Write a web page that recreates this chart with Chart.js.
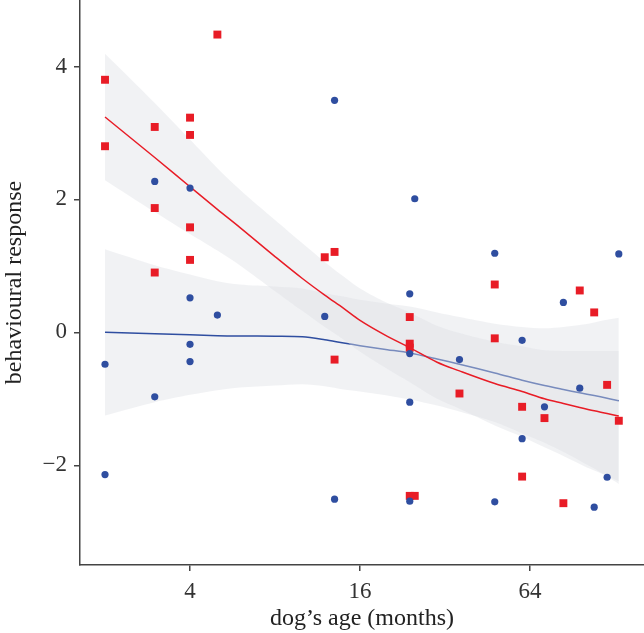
<!DOCTYPE html>
<html>
<head>
<meta charset="utf-8">
<script src="https://cdn.jsdelivr.net/npm/chart.js@4/dist/chart.umd.min.js"></script>
<style>
html,body{margin:0;padding:0;background:#fff;}
#wrap{width:644px;height:633px;}
</style>
</head>
<body>
<div id="wrap"><canvas id="c" width="644" height="633"></canvas></div>
<script>
// ---- data ----
const xTicks = [4, 16, 64];
const yTicks = [-2, 0, 2, 4];

const redAge  = [2, 2, 3, 3, 3, 4, 4, 4, 4, 5, 12, 13, 13, 24, 24, 24, 24, 25, 36, 48, 48, 60, 60, 72, 84, 96, 108, 120, 132];
const redResp = [3.80, 2.80, 3.09, 1.87, 0.90, 3.23, 2.97, 1.58, 1.09, 4.48, 1.13, 1.21, -0.41, 0.23, -0.17, -0.23, -2.46, -2.46, -0.92, 0.72, -0.09, -1.12, -2.17, -1.29, -2.57, 0.63, 0.30, -0.79, -1.33];

const blueAge  = [2, 2, 3, 3, 4, 4, 4, 4, 5, 12, 13, 13, 24, 24, 24, 24, 25, 36, 48, 48, 60, 60, 72, 84, 96, 108, 120, 132];
const blueResp = [-0.48, -2.14, 2.27, -0.97, 2.17, 0.52, -0.18, -0.44, 0.26, 0.24, 3.49, -2.51, 0.58, -0.32, -1.05, -2.54, 2.01, -0.41, 1.19, -2.55, -0.12, -1.60, -1.12, 0.45, -0.84, -2.63, -2.18, 1.18];

const fitAge    = [2, 3, 4, 5, 6, 8, 10, 12, 14, 16, 20, 24, 30, 36, 48, 60, 72, 84, 96, 108, 120, 132];
const redFit    = [3.24, 2.63, 2.19, 1.85, 1.58, 1.14, 0.81, 0.56, 0.36, 0.18, -0.06, -0.23, -0.45, -0.58, -0.77, -0.89, -1.00, -1.07, -1.13, -1.18, -1.22, -1.26];
const redUpper  = [4.19, 3.45, 2.90, 2.47, 2.15, 1.69, 1.34, 1.06, 0.84, 0.66, 0.44, 0.30, 0.10, -0.01, -0.14, -0.21, -0.27, -0.28, -0.28, -0.28, -0.28, -0.28];
const redLower  = [2.29, 1.81, 1.48, 1.23, 1.01, 0.62, 0.32, 0.08, -0.11, -0.29, -0.55, -0.75, -1.00, -1.15, -1.40, -1.57, -1.73, -1.86, -1.98, -2.08, -2.16, -2.24];
const blueFit   = [0.00, -0.02, -0.035, -0.05, -0.055, -0.057, -0.065, -0.11, -0.16, -0.20, -0.26, -0.31, -0.40, -0.48, -0.61, -0.72, -0.80, -0.86, -0.91, -0.95, -0.99, -1.03];
const blueUpper = [1.25, 1.01, 0.87, 0.77, 0.72, 0.69, 0.66, 0.59, 0.54, 0.49, 0.43, 0.39, 0.30, 0.23, 0.13, 0.08, 0.06, 0.08, 0.11, 0.15, 0.19, 0.22];
const blueLower = [-1.25, -1.05, -0.94, -0.87, -0.83, -0.80, -0.78, -0.81, -0.86, -0.89, -0.95, -1.01, -1.10, -1.19, -1.35, -1.52, -1.66, -1.80, -1.93, -2.05, -2.17, -2.28];

// ---- build ----
const pts = (xs, ys) => xs.map((x, i) => ({x: x, y: ys[i]}));
const RED = '#e81c26';
const BLUE = '#2f4ea0';
const BAND = 'rgba(222,224,229,0.42)';
const FONT = "'Liberation Serif', 'Times New Roman', serif";

const bandStyle = {type:'line', borderWidth:0, pointRadius:0, tension:0.3, backgroundColor:BAND, borderColor:'rgba(0,0,0,0)'};

new Chart(document.getElementById('c'), {
  type: 'line',
  data: {
    datasets: [
      {label:'blue pts', data:pts(blueAge, blueResp), showLine:false, pointStyle:'circle', pointRadius:3.6, pointBorderWidth:0, pointBackgroundColor:BLUE, order:0},
      {label:'red pts', data:pts(redAge, redResp), showLine:false, pointStyle:'rect', pointRadius:5.6, pointBorderWidth:0, pointBackgroundColor:RED, order:1},
      {label:'red fit', data:pts(fitAge, redFit), borderColor:RED, borderWidth:1.5, pointRadius:0, tension:0.3, cubicInterpolationMode:'monotone', fill:false, order:2},
      Object.assign({label:'red upper', data:pts(fitAge, redUpper), fill:'+1', order:3}, bandStyle),
      Object.assign({label:'red lower', data:pts(fitAge, redLower), fill:false, order:4}, bandStyle),
      {label:'blue fit', data:pts(fitAge, blueFit), borderColor:BLUE, borderWidth:1.5, pointRadius:0, tension:0.3, fill:false, order:5},
      Object.assign({label:'blue upper', data:pts(fitAge, blueUpper), fill:'+1', order:6}, bandStyle),
      Object.assign({label:'blue lower', data:pts(fitAge, blueLower), fill:false, order:7}, bandStyle)
    ]
  },
  options: {
    responsive: false,
    animation: false,
    layout: {padding: 0, autoPadding: false},
    plugins: {legend:{display:false}, tooltip:{enabled:false}},
    scales: {
      x: {
        type: 'logarithmic',
        min: 1.631, max: 162.1,
        afterBuildTicks: s => { s.ticks = xTicks.map(v => ({value: v})); },
        afterFit: s => { s.height = 68; s.paddingLeft = 0; s.paddingRight = 0; },
        ticks: {callback: v => String(v), font:{family:FONT, size:23}, color:'#333', padding:7, maxRotation:0, autoSkip:false},
        grid: {display:true, drawOnChartArea:false, drawTicks:true, tickLength:6, color:'#444', lineWidth:1.5},
        border: {display:true, color:'#444', width:1.5},
        title: {display:true, text:'dog’s age (months)', font:{family:FONT, size:24}, color:'#222', padding:0}
      },
      y: {
        type: 'linear',
        min: -3.5, max: 5.0,
        afterBuildTicks: s => { s.ticks = yTicks.map(v => ({value: v})); },
        afterFit: s => { s.width = 80; s.paddingTop = 0; s.paddingBottom = 0; },
        ticks: {callback: v => (v < 0 ? '\u2212' + Math.abs(v) : String(v)), font:{family:FONT, size:23}, color:'#333', padding:7},
        grid: {display:true, drawOnChartArea:false, drawTicks:true, tickLength:6, color:'#444', lineWidth:1.5},
        border: {display:true, color:'#444', width:1.5},
        title: {display:true, text:'behavioural response', font:{family:FONT, size:24}, color:'#222', padding:0}
      }
    }
  }
});
</script>
</body>
</html>
